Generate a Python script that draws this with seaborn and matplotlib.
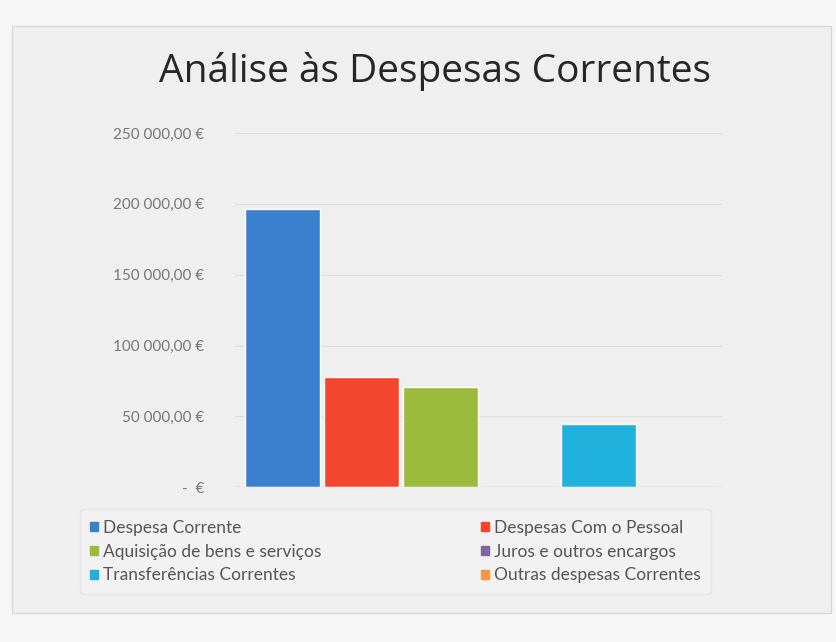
import pandas as pd
import matplotlib
matplotlib.use('Agg')
import matplotlib.pyplot as plt
import seaborn as sns
from matplotlib.patches import Patch, Rectangle

# dados
categorias = ['Despesa Corrente', 'Despesas Com o Pessoal', 'Aquisição de bens e serviços',
              'Juros e outros encargos', 'Transferências Correntes', 'Outras despesas Correntes']
valores = [196000, 77500, 70500, 0, 44500, 0]
cores = ['#3b7fcf', '#f4452f', '#9cbb3c', '#8064a2', '#20b2dc', '#f79646']
ticks_y = [0, 50000, 100000, 150000, 200000, 250000]
ticks_lbl = ['-  €', '50 000,00 €', '100 000,00 €', '150 000,00 €', '200 000,00 €', '250 000,00 €']

df = pd.DataFrame({'categoria': categorias, 'valor': valores})

sns.set_style("white")
plt.rcParams['font.family'] = ['Lato', 'DejaVu Sans']

fig = plt.figure(figsize=(8.36, 6.42), dpi=100)
fig.patch.set_facecolor('#f7f7f7')
# moldura do grafico
fig.patches.append(Rectangle((0.014, 0.045), 0.98, 0.915, transform=fig.transFigure,
                             facecolor='#efefef', edgecolor='#d8d8d8', lw=1, zorder=-5))
ax = fig.add_axes([0.281, 0.241, 0.583, 0.552])
ax.set_facecolor('none')

sns.barplot(data=df, x='categoria', y='valor', hue='categoria', palette=cores,
            width=0.95, legend=False, ax=ax, saturation=1)

ax.set_ylim(0, 250000)
ax.set_xlim(-0.6, 5.57)
ax.set_yticks(ticks_y)
ax.set_yticklabels(ticks_lbl, color='#777777', fontsize=11)
ax.set_xticks([])
ax.set_xlabel('')
ax.set_ylabel('')
ax.yaxis.grid(True, color='#dedede', lw=0.8)
ax.set_axisbelow(True)
ax.tick_params(axis='y', length=0, pad=22)
for s in ax.spines.values():
    s.set_visible(False)
ax.axhline(0, color='#c8c8c8', lw=1)

fig.text(0.52, 0.888, 'Análise às Despesas Correntes', ha='center', va='center',
         fontsize=28, color='#262626', family=['Open Sans', 'DejaVu Sans'])

# legenda (ordem em colunas)
ordem = [0, 2, 4, 1, 3, 5]
handles = [Patch(color=cores[i], label=categorias[i]) for i in ordem]
leg = fig.legend(handles=handles, ncol=2, loc='upper left', bbox_to_anchor=(0.085, 0.22),
                 frameon=True, fontsize=12.5, handlelength=0.45, handleheight=0.45,
                 handletextpad=0.3, columnspacing=9.2, labelspacing=0.45, borderpad=0.6)
leg.get_frame().set_facecolor('#f3f3f3')
leg.get_frame().set_edgecolor('#e3e3e3')
for t in leg.get_texts():
    t.set_color('#555555')

fig.savefig('out.png', dpi=100, facecolor=fig.get_facecolor())
